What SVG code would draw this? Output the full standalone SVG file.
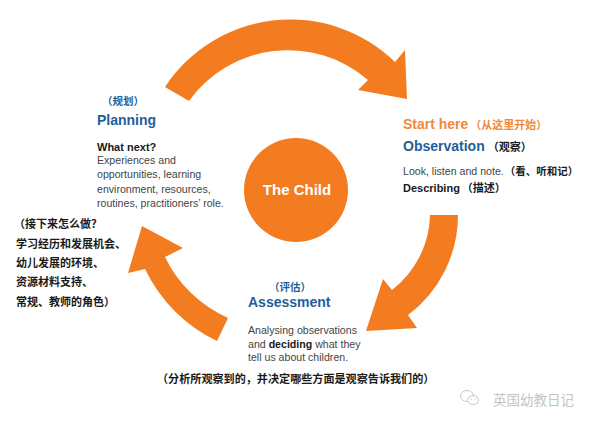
<svg xmlns="http://www.w3.org/2000/svg" width="600" height="424" viewBox="0 0 600 424">
<style>
.en{font-family:"Liberation Sans",Arial,"Noto Sans CJK SC",sans-serif}
.cj{font-family:"Noto Sans CJK SC","Liberation Sans",sans-serif;font-weight:bold}
.h{font-size:14px;font-weight:bold}
.blue{fill:#1f5f98}
.org{fill:#f08a3a}
.body{font-size:10.6px;fill:#444}
.dark{fill:#1a1a1a}
.arrow{fill:#f47c20}
</style>
<rect width="600" height="424" fill="#ffffff"/>
<g id="connectors">
<path class="arrow" d="M165,87 A150,150 0 0 1 395,62 L405,50 L407,99 L358,90 L368,80 A122,122 0 0 0 189,101 Z"/>
<path class="arrow" d="M458,215 A125,125 0 0 1 408,315 L417,328 L366,331 L383,279 L392,290 A97,97 0 0 0 430,215 Z"/>
<path class="arrow" d="M217,341 A153,153 0 0 1 145,269 L128,273 L142,226 L183,248 L165,257 A127,127 0 0 0 228,318 Z"/>
</g>
<g id="child">
<circle cx="296" cy="190" r="52" fill="#f47c20"/>
<text class="en" x="297" y="195" text-anchor="middle" font-size="15" font-weight="bold" fill="#ffffff">The Child</text>
</g>
<g id="planning">
<text class="cj blue" x="102" y="105" font-size="10.5">（规划）</text>
<text class="en h blue" x="97" y="125">Planning</text>
<text class="en dark" x="97" y="151" font-size="11" font-weight="bold">What next?</text>
<text class="en body" x="97" y="164">Experiences and</text>
<text class="en body" x="97" y="178.3">opportunities, learning</text>
<text class="en body" x="97" y="192.6">environment, resources,</text>
<text class="en body" x="97" y="207">routines, practitioners’ role.</text>
</g>
<g id="planning-cn">
<text class="cj dark" x="14" y="228" font-size="11">（接下来怎么做？</text>
<text class="cj dark" x="16" y="248" font-size="11">学习经历和发展机会、</text>
<text class="cj dark" x="16" y="267" font-size="11">幼儿发展的环境、</text>
<text class="cj dark" x="16" y="286" font-size="11">资源材料支持、</text>
<text class="cj dark" x="16" y="306" font-size="11">常规、教师的角色）</text>
</g>
<g id="observation">
<text x="403" y="129"><tspan class="en h org">Start here</tspan><tspan class="cj org" font-size="11" dx="2">（从这里开始）</tspan></text>
<text x="403" y="151"><tspan class="en h blue">Observation</tspan><tspan class="cj dark" font-size="11" dx="3">（观察）</tspan></text>
<text x="403" y="175"><tspan class="en body">Look, listen and note.</tspan><tspan class="cj dark" font-size="10.5" dx="1">（看、听和记）</tspan></text>
<text x="403" y="192"><tspan class="en dark" font-size="11" font-weight="bold">Describing</tspan><tspan class="cj dark" font-size="11" dx="2">（描述）</tspan></text>
</g>
<g id="assessment">
<text class="cj blue" x="269" y="291" font-size="10.5">（评估）</text>
<text class="en h blue" x="248" y="307">Assessment</text>
<text class="en body" x="248" y="334">Analysing observations</text>
<text class="en body" x="248" y="347.5">and <tspan font-weight="bold" fill="#1a1a1a">deciding</tspan> what they</text>
<text class="en body" x="248" y="361">tell us about children.</text>
<text class="cj dark" x="157" y="383" font-size="11.1">（分析所观察到的，并决定哪些方面是观察告诉我们的）</text>
</g>
<g id="watermark" fill="none" stroke="#c8c8c8" stroke-width="1">
<ellipse cx="467" cy="396" rx="6.5" ry="5.5"/>
<ellipse cx="473" cy="400" rx="5.5" ry="4.5" fill="#ffffff"/>
<circle cx="471" cy="399" r="0.7" fill="#c8c8c8" stroke="none"/>
<circle cx="475" cy="399" r="0.7" fill="#c8c8c8" stroke="none"/>
<text x="493" y="405" font-family="Noto Sans CJK SC,sans-serif" font-size="13.5" fill="#c4c4c4" stroke="none">英国幼教日记</text>
</g>
</svg>
